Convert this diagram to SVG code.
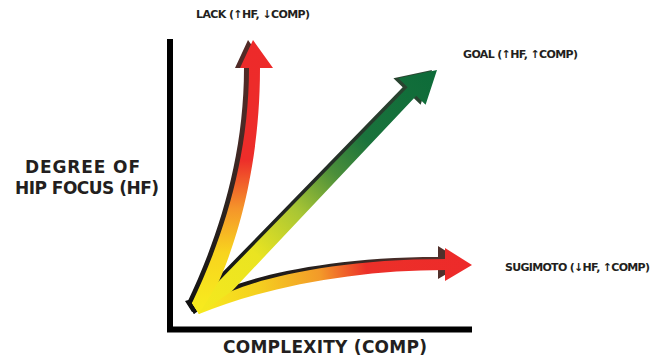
<svg xmlns="http://www.w3.org/2000/svg" width="651" height="361" viewBox="0 0 651 361">
<defs>
<style>
.t{font-family:"DejaVu Sans","Liberation Sans",sans-serif;font-weight:bold;fill:#231f20}
.lbl{font-size:11px}
.ax{font-size:17px}
.axis{fill:none;stroke:#000;stroke-width:6;stroke-linejoin:miter}
</style>
<linearGradient id="gLack" gradientUnits="userSpaceOnUse" x1="225" y1="305" x2="225" y2="45">
<stop offset="0" stop-color="#f7ea1e"/><stop offset="0.2" stop-color="#f8d41e"/><stop offset="0.37" stop-color="#f5952a"/><stop offset="0.56" stop-color="#ed2d2a"/><stop offset="1" stop-color="#ed2a2a"/>
</linearGradient>
<linearGradient id="sLack" gradientUnits="userSpaceOnUse" x1="225" y1="305" x2="225" y2="45">
<stop offset="0" stop-color="#141414"/><stop offset="0.4" stop-color="#2e2420"/><stop offset="0.7" stop-color="#4b2a26"/><stop offset="1" stop-color="#522b27"/>
</linearGradient>
<linearGradient id="gGoal" gradientUnits="userSpaceOnUse" x1="205" y1="306" x2="437" y2="70">
<stop offset="0" stop-color="#f4e81e"/><stop offset="0.22" stop-color="#eae421"/><stop offset="0.4" stop-color="#a9c634"/><stop offset="0.56" stop-color="#4b8f3a"/><stop offset="0.7" stop-color="#1a733c"/><stop offset="1" stop-color="#0d6b39"/>
</linearGradient>
<linearGradient id="sGoal" gradientUnits="userSpaceOnUse" x1="205" y1="306" x2="437" y2="70">
<stop offset="0" stop-color="#111"/><stop offset="0.45" stop-color="#232823"/><stop offset="1" stop-color="#2a4a33"/>
</linearGradient>
<linearGradient id="gSugi" gradientUnits="userSpaceOnUse" x1="200" y1="310" x2="472" y2="265">
<stop offset="0" stop-color="#f7ea1e"/><stop offset="0.22" stop-color="#f5d01f"/><stop offset="0.45" stop-color="#f39a29"/><stop offset="0.62" stop-color="#ec3029"/><stop offset="1" stop-color="#ed2a2a"/>
</linearGradient>
<linearGradient id="sSugi" gradientUnits="userSpaceOnUse" x1="200" y1="310" x2="472" y2="265">
<stop offset="0" stop-color="#111"/><stop offset="0.5" stop-color="#2a221f"/><stop offset="0.85" stop-color="#51302b"/><stop offset="1" stop-color="#51302b"/>
</linearGradient>
<path id="pLack" d="M192,303 C222,240 249,160 249,68 L240,68 L253,40 L273,68 L260,68 C260,170 235,245 219,281 L199,314 Z"/>
<path id="pGoal" d="M219,281 L407.7,87.3 L398.4,78.2 L437,70 L425.6,104.8 L416.3,95.7 L232,291 L199,314 L192,303 Z"/>
<path id="pSugi" d="M232,291 C265,277 340,259 445,259 L445,248 L472,265 L445,281 L445,270 C360,270 270,285 199,314 L192,303 Z"/>
</defs>
<rect width="651" height="361" fill="#fff"/>
<g id="axes">
<path class="axis" d="M170,39 V329.5 H472"/>
</g>
<g id="connectors">
<g id="shadows">
<use href="#pLack" fill="url(#sLack)" transform="translate(-5,0)"/>
<use href="#pGoal" fill="url(#sGoal)" transform="translate(-5,0)"/>
<use href="#pSugi" fill="url(#sSugi)" transform="translate(-7,-2)"/>
</g>
<g id="arrow-sugimoto"><use href="#pSugi" fill="url(#gSugi)"/></g>
<g id="arrow-goal"><use href="#pGoal" fill="url(#gGoal)"/></g>
<g id="arrow-lack"><use href="#pLack" fill="url(#gLack)"/></g>
</g>
<g id="label-yaxis">
<text class="t ax" x="82.5" y="173" text-anchor="middle" textLength="115">DEGREE OF</text>
<text class="t ax" x="87" y="194" text-anchor="middle" textLength="144">HIP FOCUS (HF)</text>
</g>
<g id="label-xaxis">
<text class="t ax" x="325" y="353" text-anchor="middle" textLength="204">COMPLEXITY (COMP)</text>
</g>
<g id="node-lack"><text class="t lbl" x="196" y="18" textLength="114">LACK (↑HF, ↓COMP)</text></g>
<g id="node-goal"><text class="t lbl" x="463" y="58" textLength="115">GOAL (↑HF, ↑COMP)</text></g>
<g id="node-sugimoto"><text class="t lbl" x="505" y="271" textLength="145">SUGIMOTO (↓HF, ↑COMP)</text></g>
</svg>
